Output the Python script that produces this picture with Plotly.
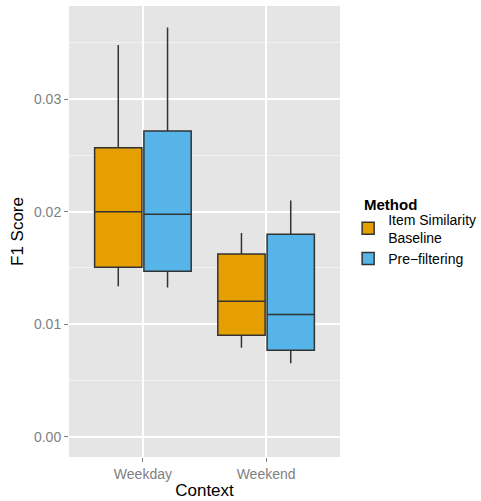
import plotly.graph_objects as go

contexts = ["Weekday", "Weekend"]
methods = ["Item Similarity<br>Baseline", "Pre\u2212filtering"]
colors = ["#E69F00", "#56B4E9"]

lower = {"Item Similarity<br>Baseline": [0.01336, 0.0079], "Pre\u2212filtering": [0.01327, 0.00653]}
q1 = {"Item Similarity<br>Baseline": [0.01505, 0.00902], "Pre\u2212filtering": [0.0147, 0.00769]}
median = {"Item Similarity<br>Baseline": [0.0200, 0.01203], "Pre\u2212filtering": [0.01976, 0.01085]}
q3 = {"Item Similarity<br>Baseline": [0.02567, 0.01624], "Pre\u2212filtering": [0.02716, 0.0180]}
upper = {"Item Similarity<br>Baseline": [0.0348, 0.01811], "Pre\u2212filtering": [0.03637, 0.02098]}

yticks = [0.0, 0.01, 0.02, 0.03]
ytick_labels = ["0.00", "0.01", "0.02", "0.03"]

font = "Liberation Sans, Arial, sans-serif"

fig = go.Figure()
for m, c in zip(methods, colors):
    fig.add_trace(go.Box(
        name=m,
        x=contexts,
        lowerfence=lower[m],
        q1=q1[m],
        median=median[m],
        q3=q3[m],
        upperfence=upper[m],
        fillcolor=c,
        line=dict(color="#333333", width=1.5),
        whiskerwidth=0,
        offsetgroup=m,
        boxpoints=False,
        hoverinfo="skip",
    ))

fig.add_annotation(
    text="<b>Method</b>", xref="paper", yref="paper",
    x=1.081, y=0.559, xanchor="left", yanchor="middle",
    showarrow=False, font=dict(size=15, family=font, color="black"),
)

fig.update_layout(
    width=481, height=501,
    margin=dict(l=69, r=141, t=6, b=44, autoexpand=False),
    paper_bgcolor="white",
    plot_bgcolor="#E5E5E5",
    boxmode="group",
    boxgap=0.2,
    boxgroupgap=0.04,
    font=dict(family=font, color="black"),
    legend=dict(
        font=dict(size=14, family=font),
        x=1.03, xanchor="left",
        y=0.562, yanchor="top",
        bgcolor="rgba(0,0,0,0)",
        itemwidth=30,
        tracegroupgap=0,
    ),
    xaxis=dict(
        type="category",
        range=[-0.6, 1.6],
        showgrid=True, gridcolor="white", gridwidth=1.5,
        zeroline=False,
        ticks="outside", ticklen=4, tickcolor="#7F7F7F",
        tickfont=dict(size=14, color="#7F7F7F", family=font),
        title=dict(text="Context", font=dict(size=17, family=font, color="black"), standoff=3),
    ),
    yaxis=dict(
        range=[-0.0018, 0.03827],
        tickmode="array", tickvals=yticks, ticktext=ytick_labels,
        showgrid=True, gridcolor="white", gridwidth=1.5,
        zeroline=False,
        ticks="outside", ticklen=4, tickcolor="#7F7F7F",
        tickfont=dict(size=14, color="#7F7F7F", family=font),
        minor=dict(tickmode="array", tickvals=[0.005, 0.015, 0.025, 0.035],
                   showgrid=True, gridcolor="#F2F2F2", gridwidth=0.8, ticks=""),
        title=dict(text="F1 Score", font=dict(size=17, family=font, color="black"), standoff=6),
    ),
)

fig.write_html("out.html")
